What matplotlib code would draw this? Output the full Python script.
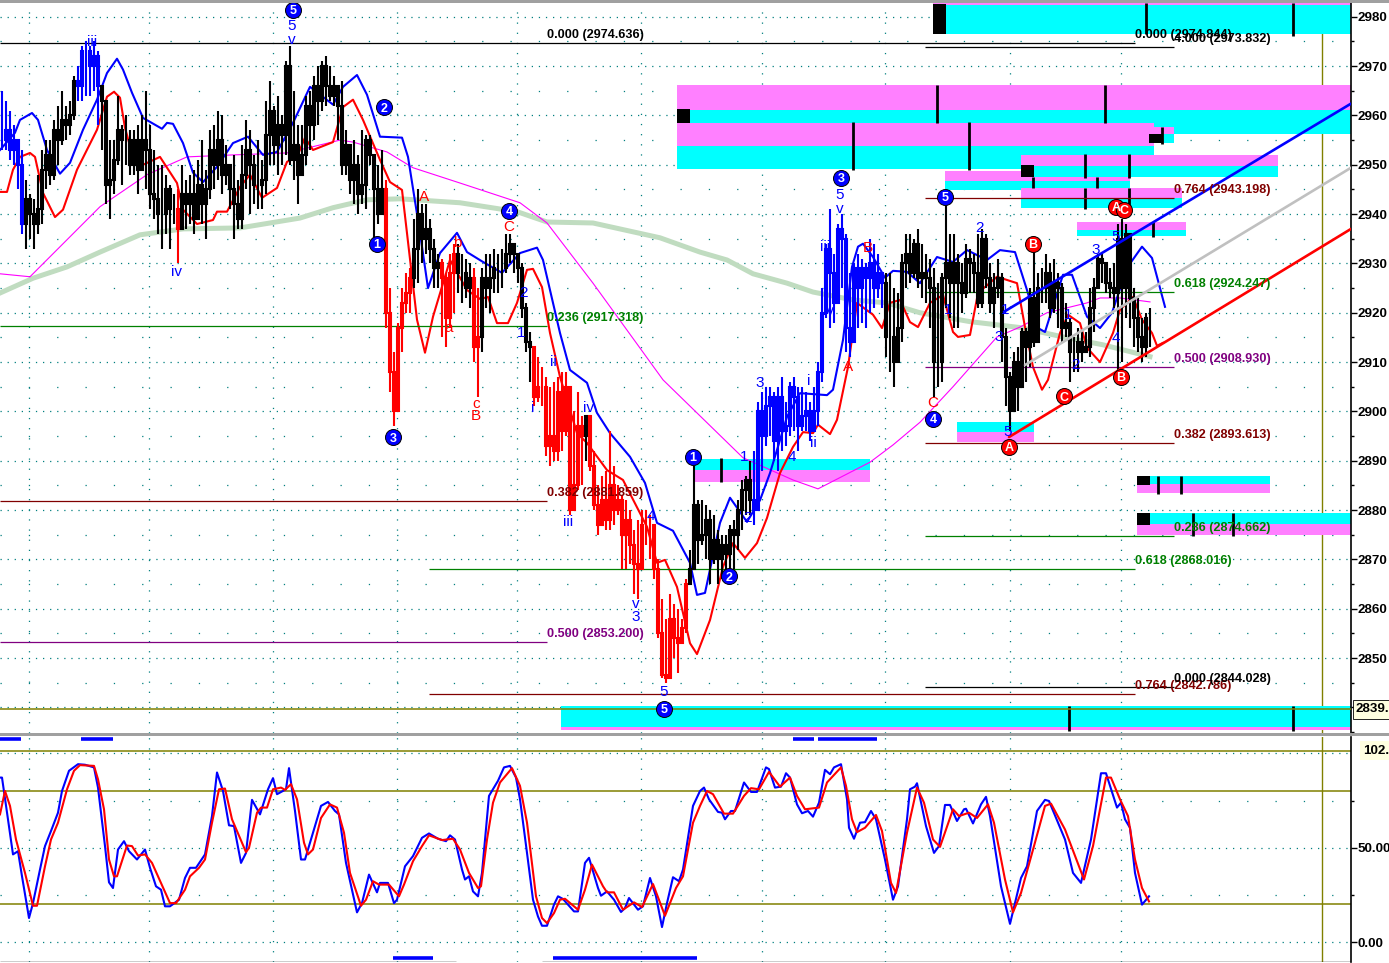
import numpy as np
import matplotlib
matplotlib.use("Agg")
import matplotlib.pyplot as plt
from matplotlib.patches import Rectangle
from matplotlib.ticker import MultipleLocator, FuncFormatter

plt.rcParams['lines.scale_dashes'] = False
plt.rcParams['font.family'] = ['Liberation Sans']

closes = [
 2955,2957,2953,2955,2950,2938,2943,2940,2938,2941,
 2949,2952,2948,2957,2955,2959,2958,2960,2967,2966,
 2973,2973,2970,2972,2966,2963,2946,2947,2951,2957,
 2955,2955,2950,2955,2949,2955,2953,2944,2943,2940,
 2940,2945,2941,2941,2937,2944,2942,2944,2939,2946,
 2942,2945,2953,2950,2955,2948,2950,2945,2942,2939,
 2948,2953,2950,2946,2946,2947,2956,2961,2954,2958,
 2956,2970,2951,2954,2948,2952,2962,2958,2966,2963,
 2970,2966,2964,2966,2962,2950,2954,2947,2950,2944,
 2946,2955,2952,2945,2940,2945,2920,2908,2900,2917,
 2922,2924,2927,2933,2940,2935,2937,2933,2929,2930,
 2927,2919,2928,2932,2928,2928,2925,2927,2913,2915,
 2927,2925,2927,2929,2929,2929,2932,2934,2932,2929,
 2921,2914,2913,2903,2905,2905,2893,2895,2892,2904,
 2896,2905,2880,2885,2897,2895,2899,2889,2881,2877,
 2882,2878,2885,2880,2882,2875,2878,2873,2869,2868,
 2877,2877,2877,2868,2855,2846.5,2846,2858,2854,2853,
 2856,2865,2868,2881,2874,2875,2878,2870,2874,2870,
 2873,2871,2876,2875,2880,2884,2886,2882,2880,2900,
 2895,2901,2903,2894,2903,2896,2897,2905,2903,2897,
 2899,2900,2896,2900,2908,2920,2933,2928,2922,2937,
 2935,2917,2914,2929,2925,2929,2927,2930,2925,2928,
 2926,2915,2915,2910,2917,2930,2932,2928,2934,2927,
 2928,2927,2925,2910,2910,2927,2930,2926,2930,2926,
 2924,2931,2930,2928,2922,2935,2927,2922,2925,2927,
 2915,2907,2900,2910,2905,2916,2913,2923,2914,2925,
 2925,2928,2921,2926,2925,2917,2918,2912,2912,2914,
 2912,2913,2921,2925,2931,2930,2926,2925,2924,2935,
 2925,2936,2923,2919,2915,2913,2919,2919]
highs = [
 2965,2963,2961,2958,2954,2953,2947,2944,2943,2948,
 2953,2955,2955,2959,2962,2965,2962,2963,2968,2970,
 2974,2975,2974,2975,2973,2966,2963,2955,2955,2964,
 2958,2960,2957,2957,2958,2960,2965,2958,2953,2950,
 2950,2948,2946,2944,2945,2950,2947,2948,2949,2951,
 2955,2949,2957,2958,2961,2960,2954,2950,2952,2947,
 2954,2959,2957,2952,2955,2951,2963,2967,2962,2964,
 2960,2971,2974,2965,2958,2958,2964,2965,2968,2970,
 2971,2972,2970,2968,2966,2967,2957,2953,2955,2952,
 2957,2956,2956,2951,2950,2953,2947,2925,2912,2918,
 2925,2928,2929,2939,2945,2942,2942,2939,2935,2932,
 2931,2928,2932,2934,2934,2932,2931,2930,2929,2925,
 2929,2932,2932,2933,2932,2933,2936,2936,2934,2931,
 2930,2922,2916,2913,2911,2909,2907,2905,2906,2907,
 2908,2908,2905,2900,2904,2899,2899,2899,2892,2885,
 2887,2888,2896,2889,2885,2883,2882,2880,2876,2878,
 2880,2880,2879,2877,2870,2862,2858,2863,2861,2860,
 2858,2866,2872,2889,2882,2882,2881,2880,2879,2876,
 2875,2875,2877,2878,2882,2886,2887,2890,2892,2902,
 2904,2905,2905,2904,2905,2907,2902,2906,2907,2905,
 2905,2904,2902,2905,2910,2925,2934,2941,2932,2938,
 2940,2936,2928,2930,2932,2931,2930,2935,2934,2932,
 2928,2928,2928,2925,2924,2932,2936,2936,2935,2937,
 2934,2932,2931,2929,2926,2928,2942,2936,2936,2932,
 2930,2934,2933,2932,2936,2937,2936,2930,2928,2931,
 2928,2917,2908,2912,2913,2917,2917,2925,2933,2928,
 2929,2932,2930,2931,2928,2926,2922,2919,2915,2917,
 2916,2916,2925,2927,2932,2932,2930,2929,2930,2938,
 2939,2938,2932,2925,2923,2919,2920,2921]
lows = [
 2953,2953,2951,2950,2945,2936,2933,2935,2933,2936,
 2938,2945,2946,2947,2950,2954,2955,2956,2959,2963,
 2963,2964,2964,2965,2958,2953,2942,2939,2944,2950,
 2946,2950,2948,2948,2944,2949,2945,2941,2939,2936,
 2933,2936,2933,2938,2930,2937,2937,2938,2936,2939,
 2938,2935,2943,2945,2947,2944,2946,2941,2935,2937,
 2937,2945,2940,2942,2941,2941,2944,2950,2950,2948,
 2950,2952,2950,2947,2942,2949,2950,2953,2955,2958,
 2961,2962,2963,2962,2955,2948,2948,2944,2942,2940,
 2942,2941,2950,2935,2938,2941,2917,2904,2897,2900,
 2912,2920,2920,2925,2926,2930,2932,2930,2925,2925,
 2915,2913,2917,2920,2924,2922,2923,2921,2910,2903,
 2912,2921,2920,2924,2924,2925,2928,2930,2928,2926,
 2919,2912,2906,2901,2902,2901,2891,2889,2890,2890,
 2892,2895,2879,2882,2884,2885,2890,2888,2880,2875,
 2877,2876,2876,2877,2879,2868,2868,2869,2863,2862,
 2868,2873,2870,2866,2854,2846,2845,2847,2850,2847,
 2853,2855,2865,2868,2869,2873,2870,2865,2869,2865,
 2866,2867,2866,2868,2872,2876,2879,2879,2877,2880,
 2888,2893,2895,2890,2888,2892,2893,2895,2896,2892,
 2896,2896,2894,2896,2897,2906,2919,2917,2918,2925,
 2925,2912,2911,2914,2917,2918,2917,2920,2921,2923,
 2921,2911,2908,2905,2913,2914,2925,2926,2927,2925,
 2923,2922,2917,2903,2905,2906,2921,2919,2917,2917,
 2920,2923,2924,2924,2921,2921,2925,2920,2917,2923,
 2910,2901,2896,2900,2900,2905,2906,2909,2913,2916,
 2922,2922,2919,2920,2917,2914,2915,2906,2908,2908,
 2910,2912,2911,2916,2925,2926,2924,2923,2921,2907,
 2910,2919,2917,2913,2912,2910,2911,2913]

# (time position where the run ends, colour)
color_runs = [(24,'#0000ff'),(78,'k'),(100,'#0000ff'),(176,'k'),(180,'#ff0000'),(384,'k'),
              (412,'#ff0000'),(440,'k'),(456,'#ff0000'),(472,'k'),(480,'#ff0000'),(532,'k'),
              (584,'#ff0000'),(588,'k'),(688,'#ff0000'),(752,'k'),(884,'#0000ff'),(1160,'k')]

ma_green = [(0,2924),(33,2927),(67,2929.3),(100,2932.3),(140,2935.8),(183,2937),(240,2937.2),(300,2939.2),
 (333,2941.3),(367,2942.9),(400,2943.1),(460,2942.3),(517,2940.5),(547,2938.4),(593,2938.2),(660,2935.2),
 (700,2932.3),(727,2930.7),(753,2927.9),(787,2926),(813,2924.2),(853,2922.6),(887,2922),(920,2920),
 (970,2918.2),(1020,2917),(1063,2915.1),(1103,2913.5),(1150,2911.1)]
ma_magenta = [(0,2927.9),(30,2927.3),(67,2934.8),(100,2941.5),(147,2948),(187,2951.6),(233,2952),(287,2952.4),
 (340,2955),(353,2954.6),(387,2952.6),(413,2949.4),(460,2946.3),(520,2942.3),(547,2938.2),(593,2926),
 (663,2906.4),(743,2890.6),(793,2886.1),(818,2884.3),(870,2889.7),(893,2893.2),(920,2897.8),(953,2905),
 (997,2915.1),(1020,2917.1),(1047,2920),(1087,2922),(1100,2923),(1120,2923),(1150,2922.2)]
env_upper = [(0,2953),(15,2956.5),(20,2959.1),(32,2960.5),(38,2959.1),(47,2953),(60,2948.2),(70,2950.4),(83,2957.1),
 (97,2963.2),(107,2968.6),(117,2971.5),(123,2969.3),(132,2964.6),(143,2959.5),(150,2958.7),(162,2957.3),(167,2958.5),
 (173,2958.3),(183,2954.4),(193,2948.4),(203,2946.5),(217,2949.6),(233,2954.4),(248,2955.7),(263,2952),(277,2952.6),
 (293,2958.5),(310,2965.8),(333,2962.2),(343,2965.8),(357,2968.2),(367,2964.2),(380,2955.7),(402,2955.5),(408,2951.6),
 (420,2936.2),(428,2925),(440,2932.1),(457,2936.2),(467,2932.3),(483,2930.3),(502,2928.1),(520,2932.1),(537,2933.2),
 (543,2930.7),(560,2915.9),(570,2908.4),(587,2905.8),(597,2899.7),(610,2895.6),(620,2893.2),(630,2890.8),(645,2885.5),
 (657,2877.4),(673,2875.8),(690,2869.3),(697,2862.8),(705,2863.2),(720,2877.4),(730,2882.5),(747,2877.6),(760,2882),
 (770,2887.5),(787,2898.9),(800,2903.7),(827,2903.3),(833,2904.4),(843,2914.5),(852,2929.3),(858,2933.4),(863,2934),
 (873,2931.3),(885,2927.1),(893,2928.5),(907,2928.3),(920,2926),(937,2931.3),(953,2930.3),(967,2932.7),(987,2930.7),
 (1000,2932.7),(1015,2932.3),(1027,2924.6),(1038,2916.9),(1045,2916.1),(1063,2927.7),(1072,2927.7),(1087,2919.2),
 (1100,2916.9),(1112,2920),(1127,2929.1),(1142,2933.4),(1152,2931.1),(1165,2921.2)]
env_lower = [(0,2944.5),(7,2944.5),(13,2949),(20,2951.6),(30,2952.4),(35,2951.6),(43,2944.3),(55,2939.4),(63,2940.9),
 (77,2949),(97,2957.1),(107,2963.8),(114,2964.8),(120,2963.6),(125,2957.5),(133,2951.6),(143,2950),(160,2951.6),
 (177,2946.3),(183,2940.9),(197,2938),(213,2938.8),(217,2940.5),(227,2940.5),(240,2945.5),(250,2948),(262,2943.3),
 (277,2945.3),(287,2950.6),(297,2951.6),(305,2955.5),(313,2953),(333,2954.6),(343,2961.7),(353,2963.2),(363,2959.1),
 (380,2951),(390,2946.5),(402,2944.9),(417,2918.6),(425,2911.9),(433,2919.2),(450,2930.7),(467,2924.6),(480,2922.8),
 (488,2923.2),(497,2917.9),(508,2917.9),(517,2922),(527,2928.7),(533,2928.9),(542,2925.2),(550,2915.9),(560,2907),
 (577,2895.6),(587,2893.6),(607,2888.1),(623,2886.1),(647,2876.6),(657,2869.3),(665,2869.9),(677,2864.4),(690,2853),
 (697,2850.8),(710,2857.7),(723,2868.5),(733,2873.3),(745,2870.3),(757,2873.3),(767,2878.4),(780,2887.5),(793,2892.8),
 (803,2895.8),(813,2895.6),(818,2897.3),(830,2895.4),(837,2898.3),(848,2909),(857,2922),(873,2919.6),(882,2916.9),
 (890,2922),(900,2922.6),(910,2918.1),(918,2917.1),(930,2922),(943,2923.6),(953,2916.1),(958,2915.1),(970,2915.5),
 (978,2924),(997,2927.3),(1017,2926),(1025,2917.1),(1033,2909),(1042,2904.4),(1048,2906.4),(1060,2915.9),(1068,2919.6),
 (1080,2917.9),(1087,2912.9),(1100,2910),(1113,2915.9),(1120,2920.6),(1133,2923.2),(1142,2918.6),(1152,2915.9),
 (1157,2913.3),(1163,2913.9)]

stoch_k = [(0,87.2),(2,87.2),(7,68.6),(13,46.5),(18,48.2),(22,34.9),(29,12.8),(33,20.7),(40,38.5),(45,50.9),(51,58.9),(58,68.6),
 (62,80.1),(69,90.8),(78,94.3),(85,94),(94,92.6),(98,81.9),(105,50.9),(109,31.7),(113,28.7),(118,49.1),(124,53.5),(129,48.2),
 (137,43.8),(145,49.1),(150,39.4),(156,29.6),(161,27.8),(165,19),(170,19),(179,22.5),(185,34),(190,39.4),(196,39.4),(205,46.5),
 (212,66.8),(217,89.9),(223,80.1),(229,61.9),(234,61.5),(241,42),(246,47.3),(252,75.4),(260,67.7),(268,81),(273,86.9),(277,78.4),
 (286,81),(289,92.2),(295,69.5),(301,43.8),(305,43.8),(310,52.7),(321,72.2),(328,74.3),(335,69.5),(339,67.7),(346,42),(357,15.8),
 (362,20.7),(369,35.8),(377,26.4),(380,31.4),(388,31.4),(394,20.7),(397,22.5),(405,40.2),(413,45.6),(422,55.3),(429,57.6),(438,54.8),
 (446,53.5),(450,56.6),(455,54.4),(462,38.5),(465,33.2),(469,34.9),(473,26.9),(478,24.3),(482,36.7),(489,77.5),(498,85.5),(504,92.6),
 (510,93.4),(516,87.2),(520,75.7),(527,47.3),(533,22.5),(538,13.6),(542,8.7),(547,8.7),(554,19.9),(558,24.3),(563,22.9),(574,16.3),
 (578,16.3),(585,42),(589,44.7),(598,28.7),(601,24.6),(607,26.9),(614,22.5),(621,16),(625,18.1),(629,23.4),(638,17.2),(643,19),
 (650,34),(656,24.3),(662,8),(667,20.7),(673,34.4),(679,32.3),(683,38.5),(693,72.2),(700,80.1),
 (704,81.9),(709,75.7),(718,69),(722,68.6),(725,65.1),(731,69.5),(735,69.5),(744,84.6),(751,79.6),(757,79.6),(766,92.6),(769,91.7),
 (775,81.9),(781,82.4),(786,89.5),(790,87.2),(797,73),(802,68.3),(808,69.5),(813,66.5),(819,73.9),(825,91.3),(830,89),(834,92.6),
 (841,94.3),(847,75.7),(849,60.6),(854,54.8),(860,63.3),(865,63.6),(871,69.5),(876,65.1),(885,43.8),(893,22.5),(898,29.6),(907,65.1),
 (910,81),(915,82.4),(917,84.2),(926,61.5),(934,47.3),(939,50.9),(945,72.7),(950,72.7),(957,64.2),(964,70.4),(966,70.7),(973,62.9),
 (981,73),(986,77),(990,66.8),(1001,29.6),(1010,9.7),(1021,34),(1027,40.2),(1037,69.5),(1045,75.4),(1049,74.8),(1065,54.4),(1073,36.7),
 (1081,31.4),(1091,54.4),(1101,89.5),(1106,89.5),(1117,71.3),(1121,73.9),(1125,65.1),(1130,60.6),(1135,36.7),(1142,19.9),(1149,24.3)]
stoch_d = [(0,67.7),(5,80.1),(10,72.2),(16,54.4),(25,36.7),(33,19.3),(37,19.3),(45,40.2),(51,54.4),(58,63.3),(67,81),(74,90.8),(80,93.8),
 (94,93.4),(98,86.3),(104,70.4),(109,43.8),(114,34.9),(117,34.9),(127,51.2),(132,50.9),(138,45.9),(145,46.5),(152,42),(161,31.4),
 (170,20.7),(176,20.7),(185,27.8),(190,34.9),(199,39.4),(205,43.8),(212,63.3),(219,81),(225,81.4),(232,65.1),(246,47.7),(249,50),
 (257,68.6),(261,71.3),(267,71.3),(273,81),(281,81.9),(285,80.7),(291,83.7),(297,75.7),(304,52.7),(308,46.5),(313,49.1),(321,65.8),
 (330,73),(337,71.3),(344,58),(350,36.7),(361,19.3),(366,22.5),(373,32.3),(379,30.5),(389,30.5),(399,24.3),(404,30.5),(413,42.9),
 (422,50.9),(429,56.6),(442,54.1),(453,54.8),(460,49.1),(469,36.7),(478,28.7),(481,29.6),(487,54.4),(493,73.9),(500,84.6),(512,92.2),
 (520,82.8),(527,63.3),(536,24.3),(542,12.8),(547,10.1),(554,15.4),(560,22.5),(565,23),(578,17.2),(585,27.8),(592,41.1),(603,29.6),
 (607,26.4),(614,26.4),(623,17.2),(634,21.1),(642,18.6),(653,30.8),(665,14),(676,28.7),(683,34.9),(693,63.3),(700,72.2),
 (707,80.1),(713,78.4),(724,68.1),(733,68.1),(744,77.5),(751,81.6),(759,81),(769,90.2),(780,82.4),(790,87.2),(797,77.5),(805,70.4),
 (819,71.3),(827,84.6),(841,92.6),(846,82.8),(852,65.1),(857,58.3),(865,60.6),(876,67.4),(882,58.9),(891,31.4),(896,26.1),(907,58),
 (917,81.9),(924,73.9),(933,54.4),(940,50.5),(953,70.4),(959,66.8),(969,68.6),(977,65.8),(988,73),(994,63.3),(1005,33.2),(1013,15.8),
 (1021,26.1),(1034,50.9),(1045,72.2),(1051,73.4),(1065,59.7),(1084,33.2),(1093,50.9),(1106,87.2),(1111,87.2),(1120,75.7),(1128,66.8),
 (1135,43.8),(1142,28.7),(1149,21.6)]

# zones: x0, x1, top, middle, bottom, first band colour, second band colour
zones = [
 (933,1351,2982.8,2982.4,2976.6,'#ff80ff','#00ffff'),
 (677,1351,2966.2,2961.1,2956.3,'#ff80ff','#00ffff'),
 (1154,1174,2957.7,2956.3,2954.4,'#ff80ff','#00ffff'),
 (677,1154,2958.5,2953.8,2949.2,'#ff80ff','#00ffff'),
 (945,1130,2948.8,2946.7,2944.9,'#ff80ff','#00ffff'),
 (1021,1278,2952,2949.8,2947.5,'#ff80ff','#00ffff'),
 (1021,1182,2945.3,2943.3,2941.3,'#ff80ff','#00ffff'),
 (1077,1186,2938.4,2936.8,2935.6,'#ff80ff','#00ffff'),
 (957,1034,2897.8,2895.8,2893.8,'#00ffff','#ff80ff'),
 (693,870,2890.3,2888.1,2885.7,'#00ffff','#ff80ff'),
 (1137,1270,2886.9,2885.3,2883.4,'#00ffff','#ff80ff'),
 (1137,1351,2879.4,2877.2,2875,'#00ffff','#ff80ff'),
 (561,1351,2840.2,2836,2835.4,'#00ffff','#ff80ff'),
]
zone_blocks = [(933,946,2982.6,2976.6),(677,690,2961.3,2958.5),(1149,1163,2956.3,2954.4),
               (1021,1034,2950,2947.5),(1137,1150,2886.9,2885),(1137,1150,2879.4,2877)]
zone_ticks = [(1146,2982.8,2976.6),(1293,2982.8,2976.2),(937,2966.2,2958.5),(1105,2966.2,2958.5),
              (853,2958.7,2949),(969,2958.7,2949),(1162,2957.7,2954.2),(1085,2952.2,2947.3),(1129,2952.2,2947.3),
              (1033,2947.5,2945.3),(1097,2947.5,2945.3),(1085,2945.3,2941),(1129,2945.3,2941),(1153,2938.4,2935.4),
              (721,2890.5,2885.7),(1158,2887,2883.2),(1181,2887,2883.2),(1193,2879.4,2874.8),(1233,2879.4,2874.8),
              (1069,2840.2,2835.2),(1293,2840.2,2835.2)]

# fib lines: price, x0, x1, colour, label
fib_lines = [
 (2974.636,0,1135,'k',[(547,'0.000 (2974.636)'),(1135,'0.000 (2974.844)')]),
 (2973.832,925,1174,'k',[(1174,'4.000 (2973.832)')]),
 (2917.318,0,547,'#008000',[(547,'0.236 (2917.318)')]),
 (2881.859,0,547,'#800000',[(547,'0.382 (2881.859)')]),
 (2853.200,0,547,'#800080',[(547,'0.500 (2853.200)')]),
 (2868.016,429,1135,'#008000',[(1135,'0.618 (2868.016)')]),
 (2842.786,429,1135,'#800000',[(1135,'0.764 (2842.786)')]),
 (2844.028,925,1174,'k',[(1174,'0.000 (2844.028)')]),
 (2874.662,925,1174,'#008000',[(1174,'0.286 (2874.662)')]),
 (2893.613,925,1174,'#800000',[(1174,'0.382 (2893.613)')]),
 (2908.930,925,1174,'#800080',[(1174,'0.500 (2908.930)')]),
 (2924.247,925,1174,'#008000',[(1174,'0.618 (2924.247)')]),
 (2943.198,925,1174,'#800000',[(1174,'0.764 (2943.198)')]),
]
trendlines = [((1004,1351),(2920.2,2962.4),'#0000ff'),
              ((1025,1351),(2909.4,2949.4),'#c0c0c0'),
              ((1009,1351),(2894.8,2937),'#ff0000')]

blue_circles = [('5',293,2981.4),('2',384,2961.7),('1',377,2934),('3',393,2894.8),('4',509,2940.7),('1',693,2890.8),
                ('2',729,2866.6),('5',664,2839.7),('3',841,2947.4),('5',945,2943.5),('4',933,2898.5)]
red_circles = [('A',1009,2892.8),('C',1064,2903.1),('B',1033,2934),('B',1121,2907),('A',1116,2941.5),('C',1124,2940.9)]
blue_labels = [('iii',92,2974.9),('5',292,2978.2),('v',292,2975.3),('iv',177,2928.3),('ii',553,2910),('i',533,2900.7),
 ('iii',568,2877.6),('iv',589,2900.7),('v',636,2861),('3',636,2858.3),('4',651,2878.8),('5',664,2843.1),('1',521,2915.9),
 ('2',524,2924),('3',760,2905.8),('i',809,2906.2),('ii',813,2893.6),('1',744,2890.8),('2',747,2878.4),('4',792,2890.8),
 ('iii',825,2933.4),('iv',828,2920.4),('5',840,2943.9),('v',840,2941.1),('2',980,2937.2),('1',948,2920.6),('1',1005,2920.6),
 ('3',999,2915.1),('1',1068,2919.6),('2',1076,2909.4),('3',1096,2932.7),('4',1116,2914.9),('5',1116,2935.4),('5',1008,2895.8)]
red_labels = [('A',424,2943.5),('b',457,2934.2),('a',449,2916.9),('c',476,2901.5),('B',476,2899.1),('C',509,2937.4),
              ('A',848,2909),('B',868,2933.2),('C',933,2901.7)]

top_marks = [(0,21),(81,113),(793,814),(818,877)]
bottom_marks = [(393,433),(553,697)]
vgrid = [29,149,273,397,517,641,762,885,1010,1121]
GRID = '#007f7f'
OLIVE = '#808000'
TICK_FS = 9.6
W, H = 1389, 963

fig = plt.figure(figsize=(W/100, H/100), dpi=100, facecolor='white')
ax = fig.add_axes([0, 1-733/H, 1351/W, 730/H])
ax2 = fig.add_axes([0, 1-962/H, 1351/W, 225/H])
ax.set_xlim(0, 1351); ax.set_ylim(2834.8, 2982.8)
ax2.set_xlim(0, 1351); ax2.set_ylim(-10.5, 108.7)

for a in (ax, ax2):
    for s in ('top', 'left', 'bottom'):
        a.spines[s].set_visible(False)
    a.spines['right'].set_linewidth(1.2)
    a.set_xticks([])
    a.yaxis.tick_right()
    a.tick_params(axis='y', which='major', length=4.5, width=1, pad=0.5, labelsize=TICK_FS)
    a.tick_params(axis='y', which='minor', length=2.5, width=1)
    for xv in vgrid:
        a.axvline(xv, color=GRID, lw=0.9, ls=(0, (0.9, 6.4)), zorder=1)
    a.axvline(1322, color=OLIVE, lw=1, zorder=1.5)

# grids
for p in range(2840, 2990, 10):
    ax.hlines(p, 0, 1351, color=GRID, lw=0.9, ls=(0, (0.9, 4.2)), zorder=1)
for p in range(2845, 2985, 10):
    ax.hlines(p, 0, 1351, color=GRID, lw=0.9, ls=(0, (0.9, 19.5)), zorder=1)
for v in (0, 50, 100):
    ax2.hlines(v, 0, 1351, color=GRID, lw=0.9, ls=(0, (0.9, 4.2)), zorder=1)
for v in (25, 75):
    ax2.hlines(v, 0, 1351, color=GRID, lw=0.9, ls=(0, (0.9, 19.5)), zorder=1)

# zones
for x0, x1, t, m, b, c1, c2 in zones:
    ax.add_patch(Rectangle((x0, m), x1-x0, t-m, fc=c1, ec='none', zorder=2))
    ax.add_patch(Rectangle((x0, b), x1-x0, m-b, fc=c2, ec='none', zorder=2))
for x0, x1, t, b in zone_blocks:
    ax.add_patch(Rectangle((x0, b), x1-x0, t-b, fc='k', ec='none', zorder=3))
for x, t, b in zone_ticks:
    ax.vlines(x, b, t, color='k', lw=2, zorder=3)

ax.hlines(2839.6, 0, 1351, color=OLIVE, lw=1.1, zorder=3)

# moving averages
ax.plot(*zip(*ma_green), color='#c0dcc0', lw=3.6, zorder=3.2)
ax.plot(*zip(*ma_magenta), color='#ff00ff', lw=0.8, zorder=3.3)
ax.plot(*zip(*env_upper), color='#0000ff', lw=1.5, zorder=3.4)
ax.plot(*zip(*env_lower), color='#ff0000', lw=1.5, zorder=3.4)

# fib lines
for price, x0, x1, col, labs in fib_lines:
    ax.hlines(price, x0, x1, color=col, lw=0.9, zorder=3.5)

# candles
n = len(closes)
assert n == len(highs) == len(lows)
xs = 2 + 4*np.arange(n)
closes_a = np.array(closes, float)
opens_a = np.r_[closes_a[0], closes_a[:-1]]
colors = []
for xv in xs:
    for end, col in color_runs:
        if xv < end:
            colors.append(col)
            break
ax.vlines(xs, lows, highs, colors=colors, lw=1.5, zorder=4)
ups = closes_a >= opens_a
ax.bar(xs, np.abs(closes_a-opens_a), width=2.8, bottom=np.minimum(closes_a, opens_a),
       color=['white' if u else c for u, c in zip(ups, colors)], edgecolor=colors, linewidth=1.5, zorder=4.2)

# trendlines
for tx, ty, col in trendlines:
    ax.plot(tx, ty, color=col, lw=1.9, zorder=5, solid_capstyle='round')

# fib labels
for price, x0, x1, col, labs in fib_lines:
    for lx, txt in labs:
        ax.annotate(txt, (lx, price), xytext=(0, 5.8), textcoords='offset points', color=col,
                    fontsize=9.1, fontweight='bold', va='center', ha='left', zorder=6, annotation_clip=False)

# wave labels
for txt, x, y in blue_labels:
    ax.text(x, y, txt, color='#0000ff', fontsize=11, ha='center', va='center', zorder=6.2)
for txt, x, y in red_labels:
    ax.text(x, y, txt, color='#ff0000', fontsize=11, ha='center', va='center', zorder=6.2)
for group, col in ((blue_circles, '#0000ff'), (red_circles, '#ff0000')):
    for txt, x, y in group:
        ax.plot([x], [y], 'o', ms=11.5, mfc=col, mec='k', mew=0.7, zorder=7, clip_on=False)
        ax.text(x, y, txt, color='white', fontsize=9, fontweight='bold', ha='center', va='center_baseline', zorder=7.1)

# axes scales
ax.yaxis.set_major_locator(MultipleLocator(10))
ax.yaxis.set_minor_locator(MultipleLocator(5))
ax.yaxis.set_major_formatter(FuncFormatter(lambda v, p: f'{v:.0f}'))
ax.set_ylim(2834.8, 2982.8)
ax2.set_yticks([0, 50])
ax2.set_yticks([25, 75], minor=True)
ax2.set_yticklabels(['0.00', '50.00'])
for a in (ax, ax2):
    for lab in a.get_yticklabels():
        lab.set_fontweight('bold')
ax.annotate('2839.', (1351, 2839.6), xytext=(3.5, 0), textcoords='offset points', va='center', ha='left',
            fontsize=TICK_FS, fontweight='bold', annotation_clip=False, zorder=8,
            bbox=dict(boxstyle='square,pad=0.25', fc='#ffffe0', ec='k', lw=0.6))
ax2.annotate('102.', (1351, 101.4), xytext=(9, 0), textcoords='offset points', va='center', ha='left',
             fontsize=TICK_FS, fontweight='bold', annotation_clip=False, zorder=8,
             bbox=dict(boxstyle='square,pad=0.25', fc='#ffffe0', ec='none'))

# oscillator
ax2.hlines([101.4, 80, 20], 0, 1351, color=OLIVE, lw=1.1, zorder=2)
ax2.plot(*zip(*stoch_k), color='#0000ff', lw=1.5, zorder=3)
ax2.plot(*zip(*stoch_d), color='#ff0000', lw=1.5, zorder=3.1)
for x0, x1 in top_marks:
    ax2.hlines(107.4, x0, x1, color='#0000ff', lw=2.6, zorder=3)
for x0, x1 in bottom_marks:
    ax2.hlines(-8.2, x0, x1, color='#0000ff', lw=2.6, zorder=3)
ax2.hlines(-10.4, 0, 456, color='k', lw=1, zorder=3)
ax2.hlines(-10.4, 542, 1351, color='k', lw=1, zorder=3)

# panel borders
fig.add_artist(Rectangle((0, 1-3/H), 1, 3/H, transform=fig.transFigure, fc='#a0a0a0', ec='none'))
fig.add_artist(Rectangle((0, 1-736/H), 1, 3/H, transform=fig.transFigure, fc='#a0a0a0', ec='none'))

fig.savefig('out.png', dpi=100)
